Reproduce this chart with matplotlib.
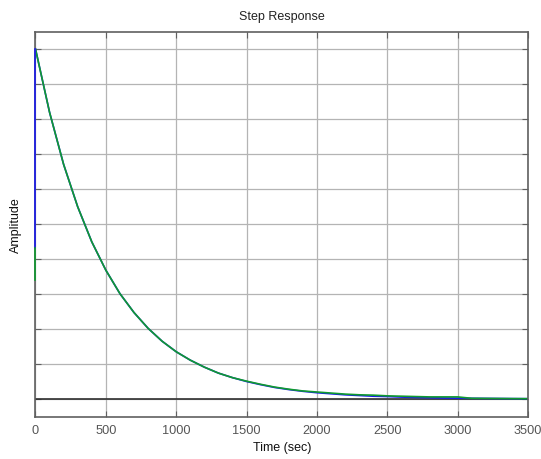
import matplotlib
matplotlib.use('Agg')
import matplotlib.pyplot as plt

plt.rcParams['font.family'] = ['Liberation Sans', 'DejaVu Sans']

# step response (time in sec, amplitude normalised)
time_sec = [0, 100, 200, 300, 400, 500, 600, 700, 800, 900, 1000,
            1100, 1200, 1300, 1400, 1500, 1600, 1700, 1800, 1900, 2000,
            2100, 2200, 2300, 2400, 2500, 2600, 2700, 2800, 2900, 3000,
            3100, 3200, 3300, 3400, 3500]
amp_blue = [1.0, 0.819, 0.670, 0.549, 0.449, 0.368, 0.301, 0.247, 0.202, 0.165, 0.135,
            0.111, 0.091, 0.074, 0.061, 0.050, 0.041, 0.033, 0.027, 0.022, 0.018,
            0.015, 0.012, 0.010, 0.008, 0.007, 0.0055, 0.0045, 0.0037, 0.003, 0.0025,
            0.002, 0.0017, 0.0014, 0.0011, 0.0009]
amp_green = [1.0, 0.819, 0.670, 0.549, 0.449, 0.368, 0.301, 0.247, 0.202, 0.165, 0.135,
             0.111, 0.091, 0.074, 0.061, 0.051, 0.042, 0.034, 0.028, 0.023, 0.020,
             0.017, 0.014, 0.012, 0.011, 0.009, 0.008, 0.007, 0.006, 0.006, 0.006,
             0.002, 0.0017, 0.0014, 0.0011, 0.0009]
# initial jump at t=0
blue_jump = [0.43, 1.0]
green_jump = [0.34, 0.43]

x_ticks = [0, 500, 1000, 1500, 2000, 2500, 3000, 3500]
y_ticks = [0.0, 0.1, 0.2, 0.3, 0.4, 0.5, 0.6, 0.7, 0.8, 0.9, 1.0]

fig = plt.figure(figsize=(5.41, 4.59), dpi=100)
ax = fig.add_axes([0.0656, 0.0915, 0.9104, 0.8377])

ax.plot(time_sec, amp_blue, color='#1a1aee', lw=1.2)
ax.plot(time_sec, amp_green, color='#109a30', lw=1.2)
ax.plot([0, 0], blue_jump, color='#1a1aee', lw=1.2, zorder=3, clip_on=False)
ax.plot([0, 0], green_jump, color='#109a30', lw=1.2, zorder=3, clip_on=False)
ax.axhline(0, color='#303030', lw=1.2, zorder=1.5)

ax.set_xlim(0, 3500)
ax.set_ylim(-0.0514, 1.047)
ax.set_xticks(x_ticks)
ax.set_yticks(y_ticks)
ax.set_yticklabels([])
ax.grid(True, color='#b4b4b4', lw=0.9, zorder=0)
ax.set_axisbelow(True)

ax.tick_params(direction='in', top=True, right=True, length=4, width=0.8,
               colors='#606060', labelsize=9.2, labelcolor='#555555', pad=6)
for s in ax.spines.values():
    s.set_color('#606060')
    s.set_linewidth(1.2)

ax.set_title('Step Response', fontsize=9, color='#222222', pad=9)
ax.set_xlabel('Time (sec)', fontsize=9, color='#111111', labelpad=3)
ax.set_ylabel('Amplitude', fontsize=9, color='#111111', labelpad=4)

fig.savefig('out.png', dpi=100)
